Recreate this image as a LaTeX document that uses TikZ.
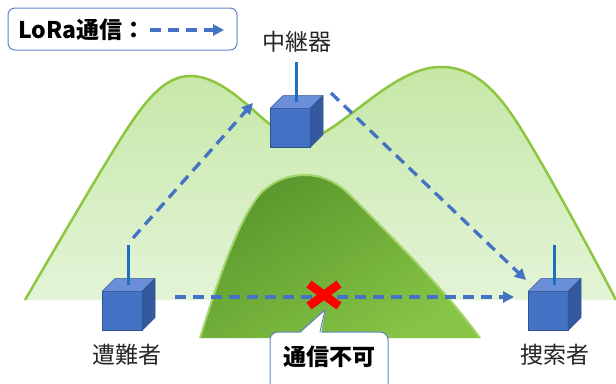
\documentclass[tikz,border=0pt]{standalone}
\usepackage{fontspec}
\newfontfamily\jp{Noto Sans CJK JP}
\usetikzlibrary{calc,arrows.meta}
\definecolor{hillTop}{HTML}{C6E7A6}
\definecolor{hillBot}{HTML}{E3F4D8}
\definecolor{hillLine}{HTML}{8DC63F}
\definecolor{peakTop}{HTML}{5A972D}
\definecolor{peakBot}{HTML}{86C545}
\definecolor{peakLine}{HTML}{A3D56A}
\definecolor{cubeFront}{HTML}{4472C4}
\definecolor{cubeTop}{HTML}{6A8FD8}
\definecolor{cubeSide}{HTML}{35599F}
\definecolor{cubeEdge}{HTML}{2F528F}
\definecolor{antennaBlue}{HTML}{1F6FC0}
\definecolor{loraBlue}{HTML}{4472C4}
\definecolor{frameBlue}{HTML}{6283C8}
\newcommand\drawcube[1]{%
  \filldraw[fill=cubeTop, draw=cubeEdge, line width=0.5pt, line join=round]
    (#1.north west) -- ++(13,-13) -- ++(40,0) -- (#1.north east) -- cycle;
  \filldraw[fill=cubeSide, draw=cubeEdge, line width=0.5pt, line join=round]
    (#1.north east) -- ++(13,-13) -- ++(0,39) -- (#1.south east) -- cycle;
  \draw[antenna] ($(#1.north)+(6.5,-6.5)$) -- ++(0,-40);
}
\begin{document}
\begin{tikzpicture}[x=1pt,y=-1pt,
  cubebox/.style={draw=cubeEdge, fill=cubeFront, line width=0.5pt,
    minimum width=40pt, minimum height=39pt, inner sep=0pt, outer sep=0pt},
  antenna/.style={draw=antennaBlue, line width=2.6pt},
  lora/.style={draw=loraBlue, line width=3.3pt, dash pattern=on 11pt off 7pt,
    -{Triangle[length=11pt,width=11pt]}},
  caption/.style={font=\jp\fontsize{23}{26}\selectfont, text=black!85, inner sep=0pt},
  boldcaption/.style={font=\jp\bfseries\fontsize{23}{26}\selectfont, text=black, inner sep=0pt},
  frame/.style={draw=frameBlue, line width=1pt, fill=white},
]
\useasboundingbox (0,0) rectangle (616,383);
\fill[white] (0,0) rectangle (616,383);

% twin hills behind everything
\def\hillcurve{(25,300) .. controls (60,240) and (95,180) .. (120,140)
  .. controls (145,100) and (165,76) .. (190,76)
  .. controls (235,76) and (270,140) .. (302,140)
  .. controls (335,140) and (390,67) .. (440,67)
  .. controls (485,66) and (510,110) .. (535,152)
  .. controls (560,195) and (590,250) .. (616,300)}
\path[top color=hillTop, bottom color=hillBot] \hillcurve -- cycle;
\draw[hillLine, line width=2.5pt] \hillcurve;

% the blocking mountain in front
\def\peakcurve{(200,338) .. controls (218,280) and (240,215) .. (262,192)
  .. controls (275,180) and (290,175) .. (305,175)
  .. controls (325,175) and (340,185) .. (350,195)
  .. controls (400,245) and (445,290) .. (480,338)}
\path[top color=peakTop, bottom color=peakBot, shading angle=30] \peakcurve -- cycle;
\draw[peakLine, line width=2pt] \peakcurve;

% radio units
\node[cubebox] (victim) at (122,311) {};
\drawcube{victim}
\node[cubebox] (relay) at (290,128) {};
\drawcube{relay}
\node[cubebox] (searcher) at (548,311) {};
\drawcube{searcher}

\node[caption] (victimlabel) at (127,355) {遭難者};
\node[caption] (relaylabel) at (297,42) {中継器};
\node[caption] (searcherlabel) at (555,355) {捜索者};

% links
\coordinate (v-up) at (133,238);
\coordinate (r-in) at (253,103);
\coordinate (r-out) at (331,93);
\coordinate (s-in) at (526,280);
\coordinate (v-right) at (175,297);
\coordinate (s-left) at (514,297);
\draw[lora] (v-up) -- (r-in);
\draw[lora] (r-out) -- (s-in);
\draw[lora] (v-right) -- (s-left);

% blocked mark
\coordinate (cross) at (324,295);
\draw[red, line width=8.5pt] ($(cross)+(-15,-11)$) -- ($(cross)+(15,11)$)
  ($(cross)+(-15,11)$) -- ($(cross)+(15,-11)$);

% callout
\draw[frame, rounded corners=8pt] (270,332) rectangle (388,400);
\fill[white] (299,334) -- (325,310) -- (321,334) -- cycle;
\draw[frameBlue, line width=1pt, line join=miter] (300,332) -- (325,310) -- (320,332);
\node[boldcaption] (nocomm) at (329,357) {通信不可};

% legend
\node[frame, rounded corners=7pt, minimum width=229pt, minimum height=42pt, inner sep=0pt]
  (legend) at (122.5,29) {};
\node[boldcaption, anchor=west] (legendtext) at (18,30) {LoRa通信：};
\coordinate (l-start) at (150,30);
\coordinate (l-end) at (224,30);
\draw[lora] (l-start) -- (l-end);
\end{tikzpicture}
\end{document}
